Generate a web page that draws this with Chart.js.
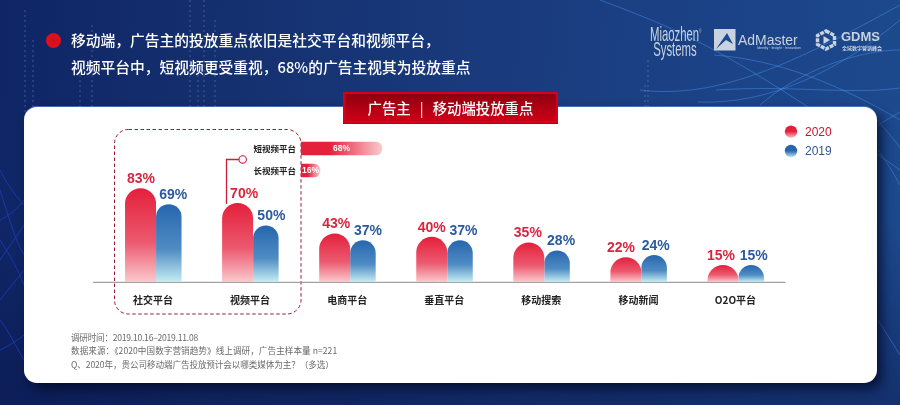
<!DOCTYPE html>
<html lang="zh"><head><meta charset="utf-8">
<script src="https://cdn.jsdelivr.net/npm/chart.js@4"></script>
<style>
html,body{margin:0;padding:0;width:900px;height:405px;overflow:hidden;background:#12296c}
#stage{position:relative;width:900px;height:405px;overflow:hidden;font-family:"Noto Sans CJK SC","Noto Sans",sans-serif;
background:linear-gradient(180deg,rgba(8,16,70,0) 55%,rgba(8,18,70,.45) 100%),linear-gradient(95deg,#0f2565 0%,#15306f 25%,#1a3d80 60%,#1d4a8e 100%)}
#stage>*{position:absolute}
#card{left:24px;top:107px;width:853px;height:276px;background:#fff;border-radius:13px;box-shadow:5px 6px 12px rgba(2,8,35,.75),0 -1px 0 rgba(120,165,235,.6)}
canvas{left:0;top:0}
#bullet{left:45.5px;top:32.5px;width:15px;height:15px;border-radius:50%;background:radial-gradient(circle at 50% 55%,#d0101c,#e0101c 60%,#b80c18)}
.head{left:71px;color:#fff;font-size:14.75px;font-weight:500;white-space:nowrap;line-height:20px}
#badge{left:343px;top:92px;width:211px;height:27px;border:2px solid #d6001c;background:linear-gradient(180deg,#8d000f 0%,#b30014 55%,#cc0016 100%);box-shadow:0 1px 0 #b4001a;color:#fff;font-size:14.4px;font-weight:500;line-height:27px;text-align:center;white-space:pre}
#badge span{margin:0 9px;font-weight:400}
.note{left:71px;color:#6a6a6a;font-size:8.6px;line-height:12px;white-space:nowrap}
.logo{color:#c9d3e0;white-space:nowrap;line-height:1}
</style></head><body>
<div id="stage">
<svg style="left:0;top:0" width="900" height="405" fill="none">
 <g stroke="#9fc0e8" stroke-opacity=".16" stroke-width="2" stroke-dasharray="2 3">
  <path d="M25 10V115M33 40V115M80 60V115M92 25V115M190 0V115M204 0V115M198 60V115M215 20V115M648 60V108M645 85V108"/>
 </g>
 <g stroke="#4d97f5" stroke-opacity=".5" stroke-width=".9">
  <path d="M600 0C680 30 730 50 900 170M714 55C780 60 840 85 900 120M716 90C790 85 850 95 900 88M698 102C770 105 840 70 900 20M640 90C720 100 800 60 900 5M760 105C800 70 860 50 900 50M878 120C885 130 895 140 900 148M878 150C885 160 893 172 900 185M878 125L900 112M878 320L900 355"/>
 </g>
 <g stroke="#1c3cc0" stroke-opacity=".8" stroke-width="1">
  <path d="M0 170C10 190 20 200 24 205M0 220C10 215 18 208 24 200M0 190C8 215 15 240 24 255M0 260C10 245 18 235 24 225M0 300C8 290 16 280 24 270M0 240C10 255 18 270 24 285M0 350C10 345 18 340 24 335M0 320C8 330 15 345 24 360"/>
 </g>
</svg>
<div id="card"></div>
<svg style="left:0;top:0" width="900" height="405" fill="none">
 <rect x="114.5" y="129.5" width="186.5" height="184.5" rx="14" stroke="#9c1a38" stroke-width="1" stroke-dasharray="3.5 2.5"/>
</svg>
<canvas id="mainChart" width="900" height="405"></canvas>
<canvas id="subChart" width="900" height="405"></canvas>
<svg style="left:0;top:0" width="900" height="405" fill="none">
 <path d="M226.5 204V159.5H239" stroke="#c8203a" stroke-width="1.3"/>
 <circle cx="242.7" cy="159.4" r="3.7" fill="#fff" stroke="#c8203a" stroke-width="1.1"/>
</svg>
<div id="bullet"></div>
<div class="head" style="top:30px">移动端，广告主的投放重点依旧是社交平台和视频平台，</div>
<div class="head" style="top:57px">视频平台中，短视频更受重视，68%的广告主视其为投放重点</div>
<div id="badge">广告主<span>|</span>移动端投放重点</div>
<div class="note" style="top:331px;letter-spacing:-.25px">调研时间：2019.10.16–2019.11.08</div>
<div class="note" style="top:344px;letter-spacing:.05px">数据来源：《2020中国数字营销趋势》线上调研，广告主样本量 n=221</div>
<div class="note" style="top:358px;letter-spacing:-.1px">Q、2020年，贵公司移动端广告投放预计会以哪类媒体为主？（多选）</div>
<div class="logo" style="left:650px;top:24px;font:400 21px/15px 'Liberation Sans';transform:scaleX(.54);transform-origin:0 0">Miaozhen<sup style="font-size:5px">®</sup><br>&nbsp;Systems</div>
<svg style="left:714px;top:29px" width="22" height="22"><rect width="21.5" height="21.5" fill="#c9d3e0"/><path d="M2 20L13 4L19 15L12 11Z" fill="#1d4a8e"/></svg>
<div class="logo" style="left:738px;top:31px;font:400 15px 'Liberation Sans';transform:scaleX(.93);transform-origin:0 0">AdMaster</div>
<div class="logo" style="left:757px;top:46px;font:400 3.5px 'Liberation Sans'">Identity · Insight · Innovation</div>
<svg style="left:815px;top:28px" width="22" height="24"><path d="M11 3L19.5 7.5V16.5L11 21L2.5 16.5V7.5Z" fill="none" stroke="#c9d3e0" stroke-width="3.4" stroke-dasharray="4 1"/><path d="M8.5 8L15 12L8.5 16Z" fill="#c9d3e0"/></svg>
<div class="logo" style="left:841px;top:29px;font:700 13px 'Liberation Sans'">GDMS</div>
<div class="logo" style="left:842px;top:45px;font-size:5px;font-weight:700">全域数字营销峰会</div>
</div>
<script>
const categories = ["社交平台","视频平台","电商平台","垂直平台","移动搜索","移动新闻","O2O平台"];
const values2020 = [83,70,43,40,35,22,15];
const values2019 = [69,50,37,37,28,24,15];
const seriesNames = ["2020","2019"];
const subCategories = ["短视频平台","长视频平台"];
const subValues = [68,16];
const labelShift2020 = [0.5,6.5,1.5,0,-1,-5,-2];
const labelShift2019 = [4.5,5.5,5,3.5,4,1.5,2.5];

Chart.defaults.animation = false;
const CJK = '"Noto Sans CJK SC","Noto Sans",sans-serif';
const NUM = '"Liberation Sans",Arial,sans-serif';
const RED = ['#e4203b','#ec5a70','#fbc9cd'], BLUE = ['#2766ae','#4f8cc4','#c6edf2'];

// Dome-topped columns: top corners are full arcs however short the column is.
const origDraw = Chart.BarElement.prototype.draw;
Chart.BarElement.prototype.draw = function(ctx){
  if (this.horizontal) return origDraw.call(this, ctx);
  const {x,y,base,width} = this.getProps(['x','y','base','width']);
  const r = width/2, ry = Math.min(r, base-y);
  ctx.save();
  ctx.fillStyle = this.options.backgroundColor;
  ctx.beginPath();
  ctx.moveTo(x-r, base);
  ctx.lineTo(x-r, y+ry);
  ctx.ellipse(x, y+ry, r, ry, 0, Math.PI, 2*Math.PI);
  ctx.lineTo(x+r, base);
  ctx.closePath();
  ctx.fill();
  ctx.restore();
};
const vGrad = colors => c => {
  const chart = c.chart;
  if (!chart.chartArea || !c.parsed) return colors[0];
  const g = chart.ctx.createLinearGradient(0, chart.scales.y.getPixelForValue(c.parsed.y), 0, chart.scales.y.getPixelForValue(0));
  g.addColorStop(0, colors[0]); g.addColorStop(.58, colors[1]); g.addColorStop(1, colors[2]);
  return g;
};
const hGrad = colors => c => {
  const chart = c.chart;
  if (!chart.chartArea || !c.parsed) return colors[0];
  const g = chart.ctx.createLinearGradient(chart.scales.x.getPixelForValue(0), 0, chart.scales.x.getPixelForValue(c.parsed.x), 0);
  g.addColorStop(0, colors[0]); g.addColorStop(.35, colors[0]); g.addColorStop(1, colors[2]);
  return g;
};
const decorate = {
  id:'decorate',
  beforeDatasetsDraw(chart){
    const {ctx,chartArea:a} = chart;
    ctx.save(); ctx.strokeStyle='#8a8a8a'; ctx.lineWidth=1;
    ctx.beginPath(); ctx.moveTo(a.left-14.5, a.bottom+.3); ctx.lineTo(a.right-1.5, a.bottom+.3); ctx.stroke(); ctx.restore();
  },
  afterDatasetsDraw(chart){
    const {ctx} = chart;
    ctx.save();
    ctx.textAlign='center'; ctx.textBaseline='middle'; ctx.font='700 14px '+NUM;
    [[0,'#d9263f',labelShift2020],[1,'#2b5a9e',labelShift2019]].forEach(([i,col,shift])=>{
      ctx.fillStyle=col;
      chart.getDatasetMeta(i).data.forEach((el,k)=>{
        ctx.fillText(chart.data.datasets[i].data[k]+'%', el.x+shift[k], el.y-9.2);
      });
    });
    // legend
    ctx.textAlign='left'; ctx.font='500 12px '+NUM;
    [[131.7,RED,'#c9142f'],[151,BLUE,'#2f5597']].forEach(([y,cols,tc],i)=>{
      const g=ctx.createLinearGradient(0,y-6,0,y+6.5);
      g.addColorStop(0,cols[0]); g.addColorStop(.45,cols[0]); g.addColorStop(1,cols[2]);
      ctx.fillStyle=g; ctx.beginPath(); ctx.arc(791,y,6.2,0,Math.PI*2); ctx.fill();
      ctx.fillStyle=tc; ctx.fillText(chart.data.datasets[i].label,805,y+.5);
    });
    ctx.restore();
  }
};
new Chart(document.getElementById('mainChart'),{
  type:'bar',
  data:{labels:categories,datasets:[
    {label:seriesNames[0],data:values2020,barThickness:31,backgroundColor:vGrad(RED)},
    {label:seriesNames[1],data:values2019,barThickness:25.5,backgroundColor:vGrad(BLUE)}
  ]},
  options:{
    responsive:false,animation:false,
    layout:{padding:{left:107.5,right:113,top:124,bottom:93}},
    plugins:{legend:{display:false},tooltip:{enabled:false}},
    scales:{
      x:{afterFit(s){s.height=30},grid:{display:false,drawTicks:false},border:{display:false},
         ticks:{padding:12,labelOffset:-3,maxRotation:0,autoSkip:false,color:'#222',font:{family:CJK,size:10,weight:'700'}}},
      y:{display:false,min:0,max:140}
    }
  },
  plugins:[decorate]
});
const subLabels = {
  id:'subLabels',
  afterDatasetsDraw(chart){
    const {ctx}=chart; ctx.save();
    ctx.textAlign='center';ctx.textBaseline='middle';ctx.fillStyle='#fff';ctx.font='700 8.5px '+NUM;
    chart.getDatasetMeta(0).data.forEach((el,k)=>{
      ctx.fillText(chart.data.datasets[0].data[k]+'%',(el.base+el.x)/2,el.y+.3);
    });
    ctx.restore();
  }
};
new Chart(document.getElementById('subChart'),{
  type:'bar',
  data:{labels:subCategories,datasets:[{label:'视频平台',data:subValues,barThickness:13,backgroundColor:hGrad(RED),
    borderRadius:{topRight:6.5,bottomRight:6.5}}]},
  options:{
    indexAxis:'y',responsive:false,animation:false,
    layout:{padding:{left:241,right:480,top:137.5,bottom:223.5}},
    plugins:{legend:{display:false},tooltip:{enabled:false}},
    scales:{
      x:{display:false,min:0,max:100},
      y:{afterFit(s){s.width=60},grid:{display:false,drawTicks:false},border:{display:false},
         ticks:{padding:5,autoSkip:false,color:'#222',font:{family:CJK,size:8.5,weight:'700'}}}
    }
  },
  plugins:[subLabels]
});
</script>
</body></html>
